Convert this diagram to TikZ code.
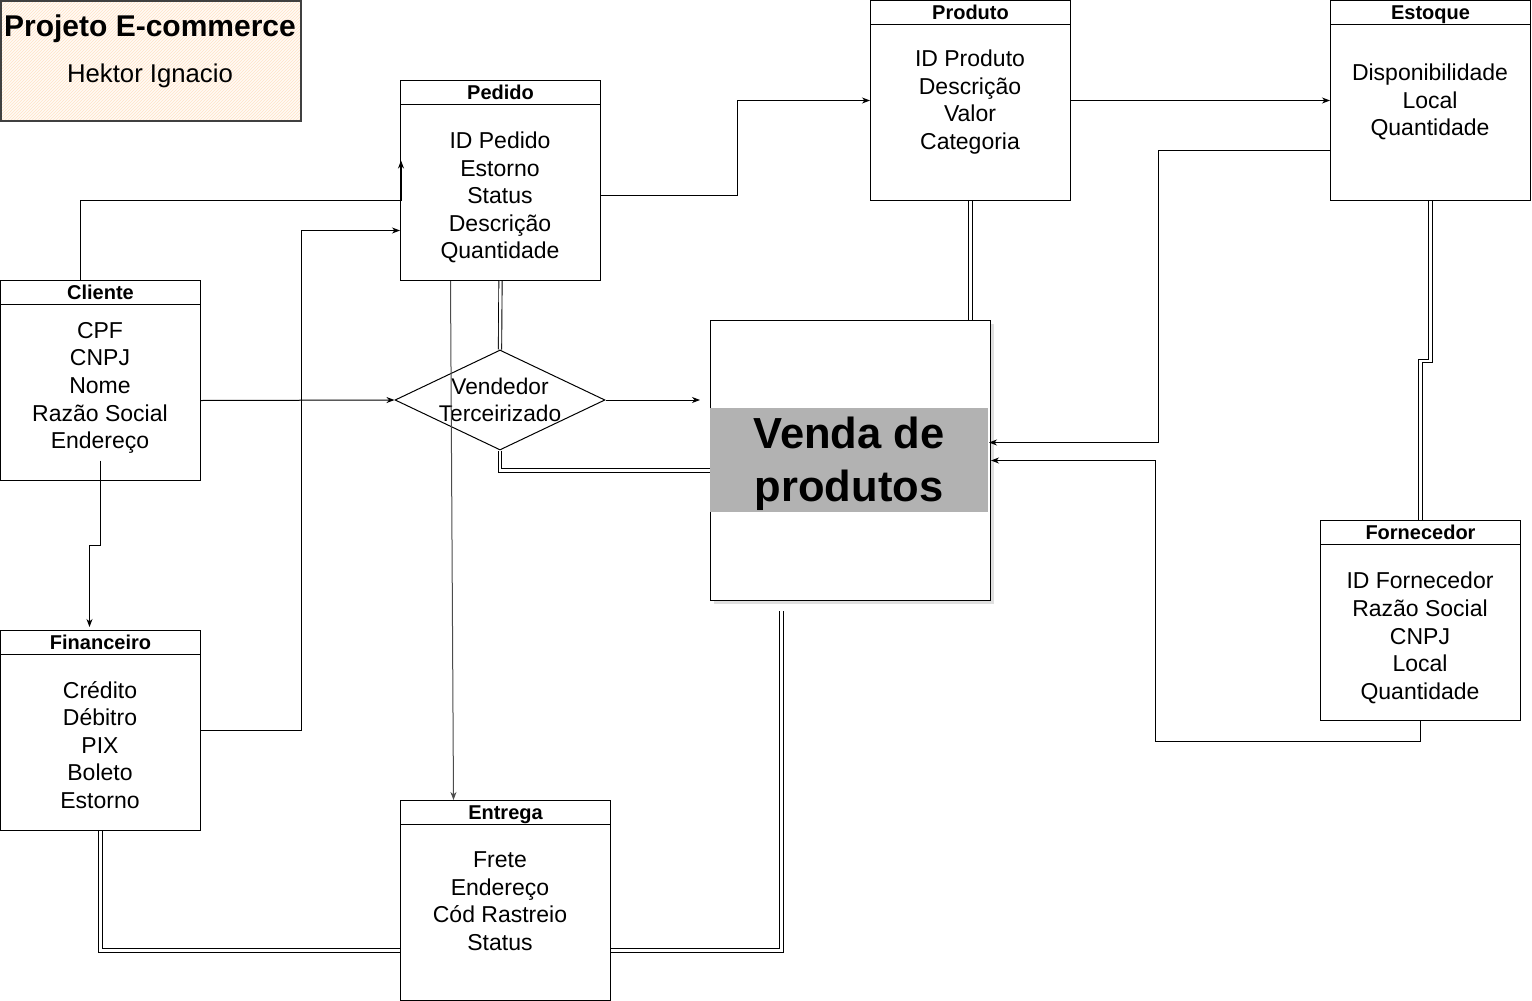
\documentclass[tikz,border=0pt]{standalone}
\usepackage{fontspec}
\setmainfont{Liberation Sans}
\usetikzlibrary{arrows.meta,positioning,shapes.geometric,shadows,patterns}

\begin{document}
\begin{tikzpicture}[x=1pt, y=-1pt, line width=1pt,
  entity/.style={rectangle, draw=black, line width=1pt, anchor=north west, minimum width=200pt, minimum height=200pt, inner sep=0pt},
  head/.style={rectangle, draw=black, line width=1pt, anchor=north, minimum height=24pt, inner sep=0pt, text height=14pt, text depth=0pt, font=\bfseries\fontsize{20}{20}\selectfont},
  attr/.style={align=center, inner sep=0pt, font=\fontsize{23}{27.6}\selectfont},
  rel/.style={-{Stealth[length=8pt,width=6pt,inset=2.5pt]}, line width=1pt},
  link/.style={double, double distance=2.4pt, line width=0.9pt},
  ]
  \useasboundingbox (0,0) rectangle (1532,1001);
  %nodes
  \node at (0,0) [entity, minimum width=300pt, minimum height=120pt, draw=black!75, line width=1.6pt, preaction={fill=orange!4}, pattern=north east lines, pattern color=orange!22] (titulo) {};
  \node at (150,28.5) [font=\bfseries\fontsize{30}{31}\selectfont, inner sep=0pt] (projeto) {Projeto E-commerce};
  \node at (150,75.5) [font=\fontsize{25.7}{27}\selectfont, inner sep=0pt] (autor) {Hektor Ignacio};

  \node at (400,80) [entity] (pedido) {};
  \node at (pedido.north) [head, minimum width=200pt] (pedidoh) {Pedido};
  \node at (500,197.5) [attr] (pedidoa) {ID Pedido\\Estorno\\Status\\Descrição\\Quantidade};

  \node at (870,0) [entity] (produto) {};
  \node at (produto.north) [head, minimum width=200pt] (produtoh) {Produto};
  \node at (970,102) [attr] (produtoa) {ID Produto\\Descrição\\Valor\\Categoria};

  \node at (1330,0) [entity] (estoque) {};
  \node at (estoque.north) [head, minimum width=200pt] (estoqueh) {Estoque};
  \node at (1430,102) [attr] (estoquea) {Disponibilidade\\Local\\Quantidade};

  \node at (0,280) [entity] (cliente) {};
  \node at (cliente.north) [head, minimum width=200pt] (clienteh) {Cliente};
  \node at (100,388) [attr] (clientea) {CPF\\CNPJ\\Nome\\Razão Social\\Endereço};

  \node at (0,630) [entity] (fin) {};
  \node at (fin.north) [head, minimum width=200pt] (finh) {Financeiro};
  \node at (100,745) [attr] (fina) {Crédito\\Débitro\\PIX\\Boleto\\Estorno};

  \node at (400,800) [entity, minimum width=210pt] (entrega) {};
  \node at (entrega.north) [head, minimum width=210pt] (entregah) {Entrega};
  \node at (500,901) [attr] (entregaa) {Frete\\Endereço\\Cód Rastreio\\Status};

  \node at (1320,520) [entity] (forn) {};
  \node at (forn.north) [head, minimum width=200pt] (fornh) {Fornecedor};
  \node at (1420,638) [attr] (forna) {ID Fornecedor\\Razão Social\\CNPJ\\Local\\Quantidade};

  \node at (500,400) [diamond, draw=black, line width=1pt, minimum width=210pt, minimum height=100pt, inner sep=0pt] (vend) {};
  \node at (500,399.5) [attr, font=\fontsize{22.7}{27}\selectfont] (vendt) {Vendedor\\Terceirizado};

  \node at (710,320) [entity, minimum width=280pt, minimum height=280pt, fill=white, drop shadow={shadow xshift=3pt, shadow yshift=-3pt, opacity=0.25}] (venda) {};
  \node at (849,460) [fill=black!30, minimum width=278pt, minimum height=104pt, inner sep=0pt] (vendab) {};
  \node at (849,464) [align=center, inner sep=0pt, font=\bfseries\fontsize{43.5}{53}\selectfont] (vendat) {Venda de\\produtos};

  \coordinate (vendain) at ([xshift=-10pt]venda.west |- vend.east);

  %arrows
  \draw[rel] ([xshift=-20pt]cliente.north) |- ([xshift=1pt,yshift=-20pt]pedido.west) -- ([xshift=1pt,yshift=20pt]pedido.west);
  \draw[rel] (fin.east) -- ++(100,0) |- ([yshift=-50pt]pedido.west);
  \draw[rel] ([yshift=-20pt]cliente.east) -- (vend.west);
  \draw[rel] (vend.east) -- (vendain);
  \draw[rel] ([yshift=-15pt]pedido.east) -- ++(136,0) |- (produto.west);
  \draw[rel] (produto.east) -- (estoque.west);
  \draw[rel] ([yshift=-50pt]estoque.west) -- ++(-172,0) |- ([xshift=-2pt,yshift=18pt]venda.east);
  \draw[rel] (forn.south) -- ++(0,20) -- ++(-265,0) |- (venda.east);
  \draw[rel] ([yshift=-80pt]cliente.center) -- ++(0,85) -| ([xshift=-11pt,yshift=3pt]fin.north);
  \draw[rel, draw=black!70] ([xshift=-50pt]pedido.south) -- ([xshift=-52pt]entrega.north);

  %double lines
  \draw[link] (pedido.south) -- (vend.north);
  \draw[link] (vend.south) |- ([yshift=-10pt]venda.west);
  \draw[link] ([xshift=120pt]venda.north |- produto.south) -- ([xshift=120pt]venda.north);
  \draw[link] (estoque.south) -- ++(0,160) -| (forn.north);
  \draw[link] (fin.south) |- ([yshift=-50pt]entrega.west);
  \draw[link] ([yshift=-50pt]entrega.east) -| ([xshift=-69pt,yshift=-10pt]venda.south);
\end{tikzpicture}
\end{document}
